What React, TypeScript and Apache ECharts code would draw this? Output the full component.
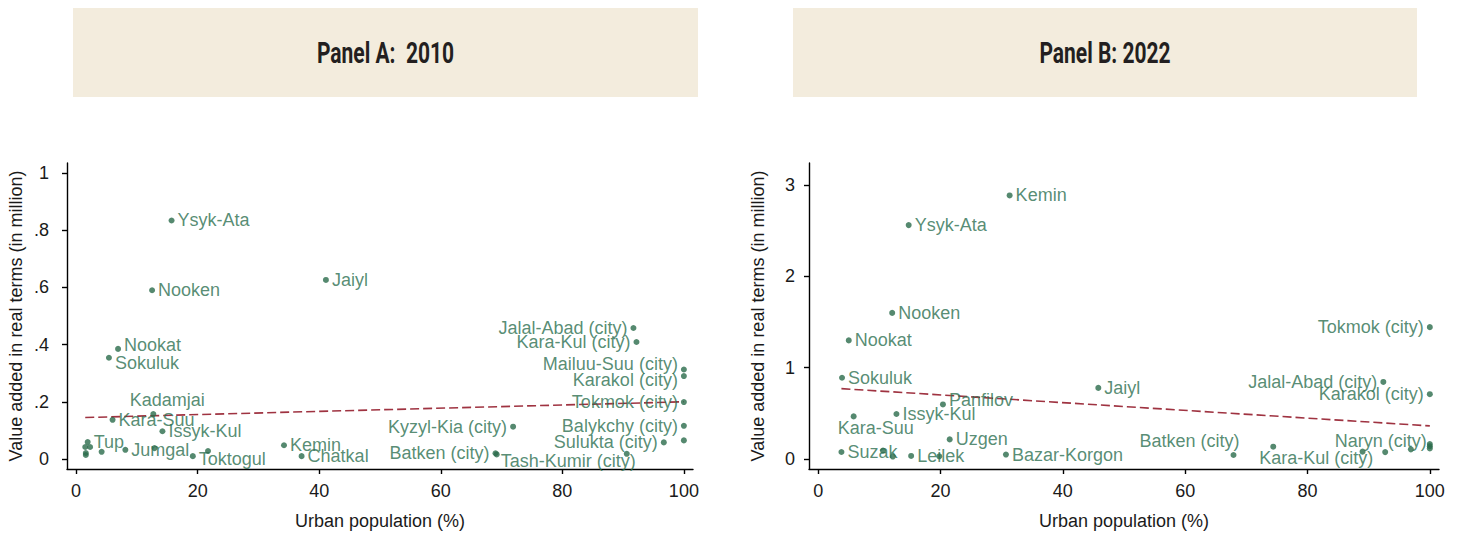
import React, { useEffect, useRef } from "react";
import * as echarts from "echarts";

// ---------- Panel A: 2010 ----------
const aNames = ["Ysyk-Ata", "Nooken", "Jaiyl", "Nookat", "Sokuluk", "Kadamjai", "Kara-Suu", "Issyk-Kul", "Tup", "", "", "", "", "", "Jumgal", "", "Toktogul", "", "Kemin", "Chatkal", "Kyzyl-Kia (city)", "Batken (city)", "Tash-Kumir (city)", "Jalal-Abad (city)", "Kara-Kul (city)", "Mailuu-Suu (city)", "Karakol (city)", "Tokmok (city)", "Balykchy (city)", "Sulukta (city)", "", ""];
const aUrban = [15.7, 12.5, 41.1, 6.9, 5.4, 12.7, 6.0, 14.2, 1.9, 1.5, 2.3, 1.6, 1.6, 4.2, 8.1, 12.9, 19.2, 21.7, 34.2, 37.1, 71.9, 69.0, 69.2, 91.7, 92.2, 100, 100, 100, 100, 96.7, 100, 90.6];
const aValue = [0.834, 0.590, 0.626, 0.385, 0.354, 0.157, 0.137, 0.097, 0.059, 0.042, 0.042, 0.021, 0.014, 0.025, 0.032, 0.038, 0.010, 0.028, 0.048, 0.010, 0.113, 0.020, 0.016, 0.458, 0.409, 0.313, 0.290, 0.199, 0.116, 0.058, 0.065, 0.018];
const aTrendX = [1.5, 100];
const aTrendY = [0.145, 0.2];
const aYTicks = [0, 0.2, 0.4, 0.6, 0.8, 1];

// ---------- Panel B: 2022 ----------
const bNames = ["Kemin", "Ysyk-Ata", "Nooken", "Nookat", "Sokuluk", "Jaiyl", "Panfilov", "Issyk-Kul", "Kara-Suu", "Uzgen", "Suzak", "", "", "Leilek", "", "Bazar-Korgon", "Tokmok (city)", "Jalal-Abad (city)", "Karakol (city)", "Batken (city)", "", "", "Kara-Kul (city)", "", "Naryn (city)", "", ""];
const bUrban = [31.3, 14.8, 12.1, 5.0, 3.9, 45.8, 20.4, 12.8, 5.8, 21.5, 3.8, 10.6, 12.2, 15.2, 19.8, 30.7, 100, 92.4, 100, 67.9, 74.4, 89.0, 92.7, 96.9, 100, 100, 100];
const bValue = [2.885, 2.56, 1.599, 1.298, 0.889, 0.778, 0.597, 0.492, 0.466, 0.214, 0.076, 0.091, 0.026, 0.033, 0.029, 0.048, 1.443, 0.843, 0.709, 0.043, 0.134, 0.080, 0.075, 0.105, 0.163, 0.140, 0.115];
const bTrendX = [3.8, 100];
const bTrendY = [0.77, 0.362];
const bYTicks = [0, 1, 2, 3];

const xTicks = [0, 20, 40, 60, 80, 100];

// ---------- styling (kept apart from data) ----------
const FONT = "Liberation Sans";
const DOT = "#2a6c4b";
const LABEL = "#2c6f50";
const TREND = "#9f3341";

type LabelStyle = { position?: string; offset?: [number, number] };
const leftPos: LabelStyle = { position: "left" };
const aLabelStyle: Record<string, LabelStyle> = {
  Nookat: { offset: [0, -4] },
  Sokuluk: { offset: [0, 5] },
  Kadamjai: { position: "top", offset: [14, 1] },
  Toktogul: { offset: [0, 3] },
  "Tash-Kumir (city)": { offset: [-2, 7] },
  "Kyzyl-Kia (city)": leftPos,
  "Batken (city)": leftPos,
  "Jalal-Abad (city)": leftPos,
  "Kara-Kul (city)": leftPos,
  "Mailuu-Suu (city)": { position: "left", offset: [0, -5] },
  "Karakol (city)": { position: "left", offset: [0, 4] },
  "Tokmok (city)": leftPos,
  "Balykchy (city)": leftPos,
  "Sulukta (city)": leftPos,
};
const bLabelStyle: Record<string, LabelStyle> = {
  Panfilov: { offset: [0, -4] },
  "Kara-Suu": { position: "bottom", offset: [22, -3] },
  "Tokmok (city)": leftPos,
  "Jalal-Abad (city)": leftPos,
  "Karakol (city)": leftPos,
  "Batken (city)": { position: "left", offset: [12, -14] },
  "Kara-Kul (city)": { position: "left", offset: [-6, 6] },
  "Naryn (city)": { position: "left", offset: [3, -3] },
};

function scatterData(names: string[], xs: number[], ys: number[], styles: Record<string, LabelStyle>) {
  return xs.map((x, i) => {
    const name = names[i];
    const st = styles[name] || {};
    return {
      name,
      value: [x, ys[i]],
      label: {
        show: name !== "",
        position: st.position || "right",
      },
    };
  });
}

function axisPair(gridIndex: number, yMin: number, yMax: number, yTicks: number[], fmt: (v: number) => string, nameGap: number, labelMargin: number) {
  const line = { show: true, lineStyle: { color: "#000", width: 1.4 } };
  const tick = { show: true, length: 5, lineStyle: { color: "#000", width: 1.4 } };
  const textBase = { color: "#1a1a1a", fontFamily: FONT, fontSize: 18 };
  return {
    x: {
      type: "value",
      gridIndex,
      min: -1.5,
      max: 101.5,
      axisLine: { ...line, onZero: false },
      axisTick: { ...tick, customValues: xTicks },
      axisLabel: { ...textBase, margin: 13, customValues: xTicks },
      splitLine: { show: false },
      name: "Urban population (%)",
      nameLocation: "middle",
      nameGap: 43,
      nameTextStyle: { ...textBase },
    },
    y: {
      type: "value",
      gridIndex,
      min: yMin,
      max: yMax,
      axisLine: { ...line, onZero: false },
      axisTick: { ...tick, customValues: yTicks },
      axisLabel: { ...textBase, margin: labelMargin, customValues: yTicks, formatter: fmt },
      splitLine: { show: false },
      name: "Value added in real terms (in million)",
      nameLocation: "middle",
      nameGap,
      nameRotate: 90,
      nameTextStyle: { ...textBase },
    },
  };
}

function scatterSeries(idx: number, data: any[], names: string[], styles: Record<string, LabelStyle>) {
  return {
    type: "scatter",
    xAxisIndex: idx,
    yAxisIndex: idx,
    symbol: "circle",
    symbolSize: 6,
    itemStyle: { color: DOT },
    label: {
      show: true,
      formatter: (p: any) => p.name,
      color: LABEL,
      fontFamily: FONT,
      fontSize: 18,
      distance: 3,
    },
    labelLayout: (params: any) => {
      const st = styles[names[params.dataIndex]];
      const off = (st && st.offset) || [0, 0];
      return { dx: off[0], dy: off[1], hideOverlap: false };
    },
    data,
    z: 3,
  };
}

function trendSeries(idx: number, xs: number[], ys: number[]) {
  return {
    type: "line",
    xAxisIndex: idx,
    yAxisIndex: idx,
    data: xs.map((x, i) => [x, ys[i]]),
    symbol: "none",
    lineStyle: { color: TREND, width: 1.6, type: [9, 4] },
    z: 2,
  };
}

function titleBox(x: number, w: number, text: string) {
  return [
    { type: "rect", shape: { x, y: 8, width: w, height: 89 }, style: { fill: "#f3ecdd" }, z: 0 },
    {
      type: "text",
      x: x + w / 2,
      y: 53,
      scaleX: 0.7,
      style: {
        text,
        fill: "#231f20",
        font: "bold 30px Roboto",
        textAlign: "center",
        textVerticalAlign: "middle",
      },
      z: 1,
    },
  ];
}

export default function App() {
  const ref = useRef<HTMLDivElement>(null);
  useEffect(() => {
    const chart = echarts.init(ref.current!, null, { renderer: "svg" });
    const axA = axisPair(0, -0.035, 1.035, aYTicks, (v) => (v === 0 ? "0" : v === 1 ? "1" : "." + Math.round(v * 10)), 42, 18);
    const axB = axisPair(1, -0.11, 3.24, bYTicks, (v) => String(v), 42, 14);
    chart.setOption({
      animation: false,
      backgroundColor: "#fff",
      textStyle: { fontFamily: FONT },
      grid: [
        { left: 67, top: 163, width: 626, height: 308 },
        { left: 809, top: 163, width: 630, height: 309 },
      ],
      xAxis: [axA.x, axB.x],
      yAxis: [axA.y, axB.y],
      series: [
        trendSeries(0, aTrendX, aTrendY),
        scatterSeries(0, scatterData(aNames, aUrban, aValue, aLabelStyle), aNames, aLabelStyle),
        trendSeries(1, bTrendX, bTrendY),
        scatterSeries(1, scatterData(bNames, bUrban, bValue, bLabelStyle), bNames, bLabelStyle),
      ],
      graphic: [...titleBox(73, 625, "Panel A:  2010"), ...titleBox(793, 624, "Panel B: 2022")],
    });
    return () => chart.dispose();
  }, []);
  return <div ref={ref} style={{ position: "absolute", left: 0, top: 0, width: 1460, height: 535 }} />;
}
